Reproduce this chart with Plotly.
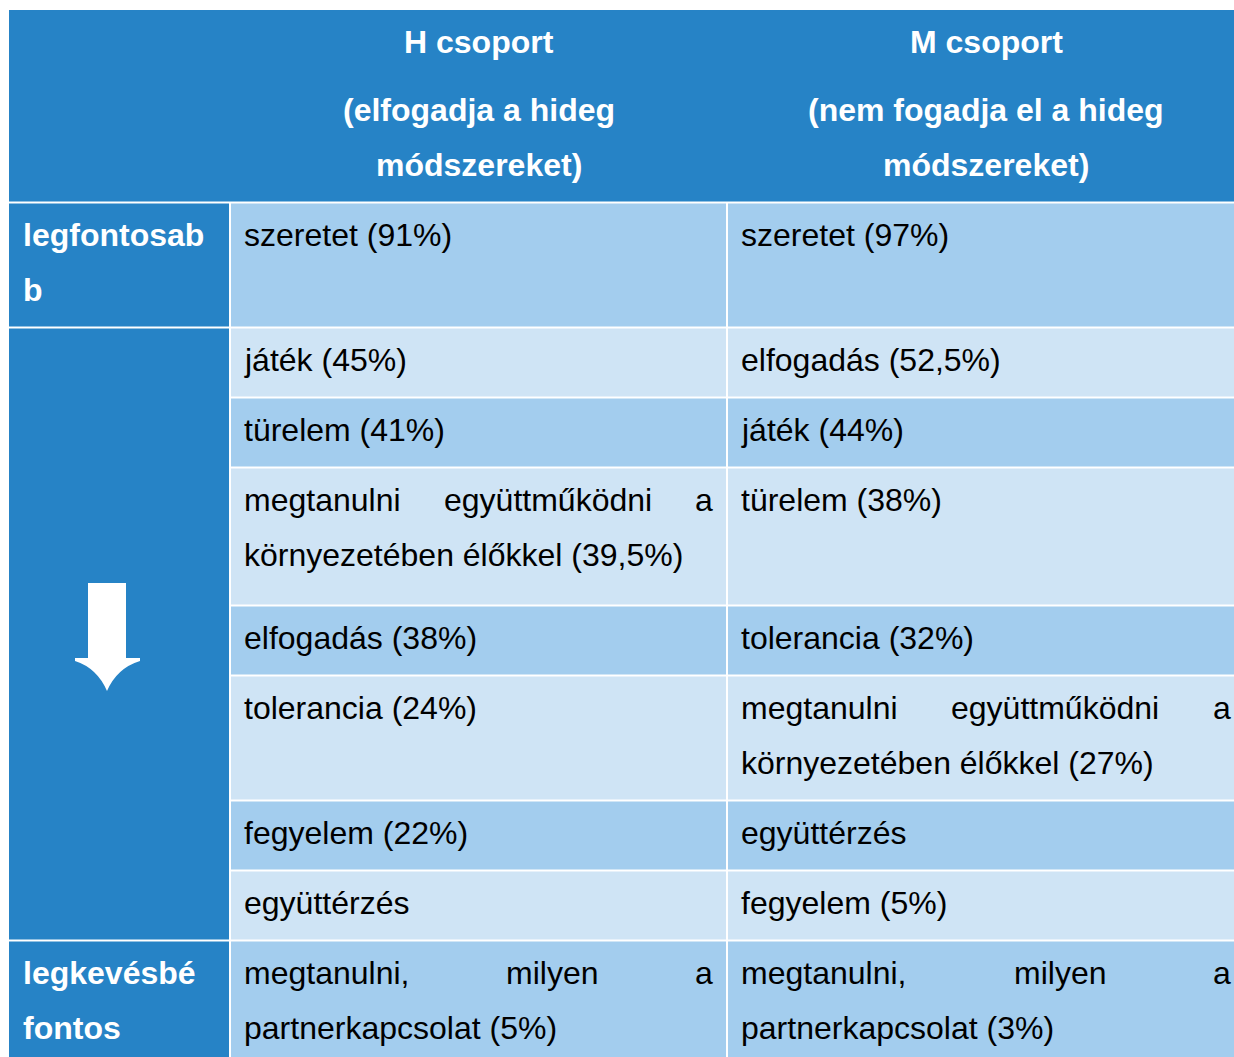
import plotly.graph_objects as go

# ---------------- data ----------------
group_titles = ["H csoport", "M csoport"]
group_subtitles = ["(elfogadja a hideg módszereket)", "(nem fogadja el a hideg módszereket)"]
rank_top = "legfontosabb"
rank_bottom = "legkevésbé fontos"
h_group = [
    "szeretet (91%)",
    "játék (45%)",
    "türelem (41%)",
    "megtanulni együttműködni a környezetében élőkkel (39,5%)",
    "elfogadás (38%)",
    "tolerancia (24%)",
    "fegyelem (22%)",
    "együttérzés",
    "megtanulni, milyen a partnerkapcsolat (5%)",
]
m_group = [
    "szeretet (97%)",
    "elfogadás (52,5%)",
    "játék (44%)",
    "türelem (38%)",
    "tolerancia (32%)",
    "megtanulni együttműködni a környezetében élőkkel (27%)",
    "együttérzés",
    "fegyelem (5%)",
    "megtanulni, milyen a partnerkapcsolat (3%)",
]

# ---------------- layout / style ----------------
W, H = 1234, 1057
FONT = "Liberation Sans, Arial, sans-serif"
FS = 32
LINE = 55
PAD_L = 13
PAD_R = 15
FIRST = 32.5
HEAD_BLUE = "#2683C6"
DARK = "#A3CDEE"
LIGHT = "#CFE4F5"
col_edges = [9, 230, 727, 1245]
header_top, header_bot = 10, 202.5
row_heights = [125, 70, 70, 138, 70, 125, 70, 70, 125]

REG = {' ': 278, '(': 333, ')': 333, '%': 889, ',': 278, 'a': 556, 'b': 556, 'c': 500, 'd': 556,
       'e': 556, 'f': 278, 'g': 556, 'h': 556, 'i': 222, 'j': 222, 'k': 500, 'l': 222, 'm': 833,
       'n': 556, 'o': 556, 'p': 556, 'r': 333, 's': 500, 't': 278, 'u': 556, 'v': 500, 'y': 500,
       'z': 500, 'H': 722, 'M': 833}
BOLD = {' ': 278, '(': 333, ')': 333, '%': 889, ',': 278, 'a': 556, 'b': 611, 'c': 556, 'd': 611,
        'e': 556, 'f': 333, 'g': 611, 'h': 611, 'i': 278, 'j': 278, 'k': 556, 'l': 278, 'm': 889,
        'n': 611, 'o': 611, 'p': 611, 'r': 389, 's': 556, 't': 333, 'u': 611, 'v': 556, 'y': 556,
        'z': 500, 'H': 722, 'M': 833, 'ó': 611, 'ö': 611, 'ü': 611}


def tw(s, bold=False):
    tab = BOLD if bold else REG
    return sum(tab.get(ch, 556) for ch in s) * FS / 1000.0


def wrap(text, avail, bold=False):
    lines, cur = [], ""
    for word in text.split(" "):
        cand = word if not cur else cur + " " + word
        if tw(cand, bold) <= avail:
            cur = cand
            continue
        if cur:
            lines.append(cur)
        cur = ""
        while tw(word, bold) > avail:
            k = len(word)
            while k > 1 and tw(word[:k], bold) > avail:
                k -= 1
            lines.append(word[:k])
            word = word[k:]
        cur = word
    if cur:
        lines.append(cur)
    return lines


shapes = []
annotations = []


def rect(x0, x1, y0, y1, color):
    shapes.append(dict(type="rect", xref="x", yref="y", x0=x0, x1=x1, y0=y0, y1=y1,
                       fillcolor=color, line=dict(width=0), layer="below"))


def label(x, y, s, anchor="left", bold=False, color="#000000"):
    annotations.append(dict(x=x, y=y, xref="x", yref="y", text=s, showarrow=False,
                            xanchor=anchor, yanchor="middle", borderpad=0,
                            font=dict(family=FONT, size=FS, color=color,
                                      weight="bold" if bold else "normal")))


def justified(x0, avail, top, lines, bold=False, color="#000000"):
    for i, ln in enumerate(lines):
        y = top + FIRST + i * LINE
        words = ln.split(" ")
        if i == len(lines) - 1 or len(words) == 1:
            label(x0, y, ln, "left", bold, color)
            continue
        widths = [tw(w, bold) for w in words]
        gap = (avail - sum(widths)) / (len(words) - 1)
        x = x0
        for w, wd in zip(words, widths):
            label(x, y, w, "left", bold, color)
            x += wd + gap


# header
rect(col_edges[0], col_edges[-1], header_top, header_bot - 1, HEAD_BLUE)
for c in range(2):
    left, right = col_edges[c + 1], col_edges[c + 2]
    cx = (left + right) / 2
    label(cx, header_top + 32, group_titles[c], "center", True, "white")
    sub = wrap(group_subtitles[c], right - left - PAD_L - PAD_R, True)
    for i, ln in enumerate(sub):
        label(cx, header_top + 32 + 13 + LINE * (i + 1), ln, "center", True, "white")

# body rows
row_tops = [header_bot]
for h in row_heights:
    row_tops.append(row_tops[-1] + h)

n = len(h_group)
for i in range(n):
    y0, y1 = row_tops[i] + 1, row_tops[i + 1] - 1
    fill = DARK if i % 2 == 0 else LIGHT
    for c, vals in enumerate([h_group, m_group]):
        left, right = col_edges[c + 1], col_edges[c + 2]
        rect(left + 1, right - 1, y0, y1, fill)
        avail = right - left - PAD_L - PAD_R
        justified(left + PAD_L, avail, row_tops[i], wrap(vals[i], avail), False)

# first column
c0, c1 = col_edges[0], col_edges[1]
rect(c0, c1 - 1, row_tops[0] + 1, row_tops[1] - 1, HEAD_BLUE)
rect(c0, c1 - 1, row_tops[1] + 1, row_tops[n - 1] - 1, HEAD_BLUE)
rect(c0, c1 - 1, row_tops[n - 1] + 1, row_tops[n] - 1, HEAD_BLUE)
avail0 = c1 - c0 - 2 * PAD_L
justified(c0 + PAD_L, avail0, row_tops[0], wrap(rank_top, avail0, True), True, "white")
justified(c0 + PAD_L, avail0, row_tops[n - 1], wrap(rank_bottom, avail0, True), True, "white")

# arrow in merged cell
ax = c0 + 98
amid = (row_tops[1] + row_tops[n - 1]) / 2 + 3
top = amid - 54
sh_b = top + 75
tip = top + 108
path = (f"M {ax-19},{top} L {ax+19},{top} L {ax+19},{sh_b} L {ax+33},{sh_b} L {ax+33},{sh_b+3} "
        f"Q {ax+10},{sh_b+10} {ax},{tip} Q {ax-10},{sh_b+10} {ax-32},{sh_b+3} "
        f"L {ax-32},{sh_b} L {ax-19},{sh_b} Z")
shapes.append(dict(type="path", xref="x", yref="y", path=path, fillcolor="white",
                   line=dict(width=0), layer="above"))

fig = go.Figure()
fig.add_trace(go.Scatter(x=[0, W], y=[0, H], mode="markers", marker=dict(opacity=0),
                         hoverinfo="skip", showlegend=False))
fig.update_layout(
    width=W, height=H, margin=dict(l=0, r=0, t=0, b=0, pad=0),
    paper_bgcolor="white", plot_bgcolor="white",
    xaxis=dict(range=[0, W], visible=False, fixedrange=True),
    yaxis=dict(range=[H, 0], visible=False, fixedrange=True),
    shapes=shapes, annotations=annotations, showlegend=False, hovermode=False,
)
fig.write_html(
    "out.html",
    config={"displayModeBar": False},
    post_script="document.documentElement.style.margin='0';document.body.style.margin='0';"
                "document.body.style.padding='0';document.body.style.overflow='hidden';",
)
